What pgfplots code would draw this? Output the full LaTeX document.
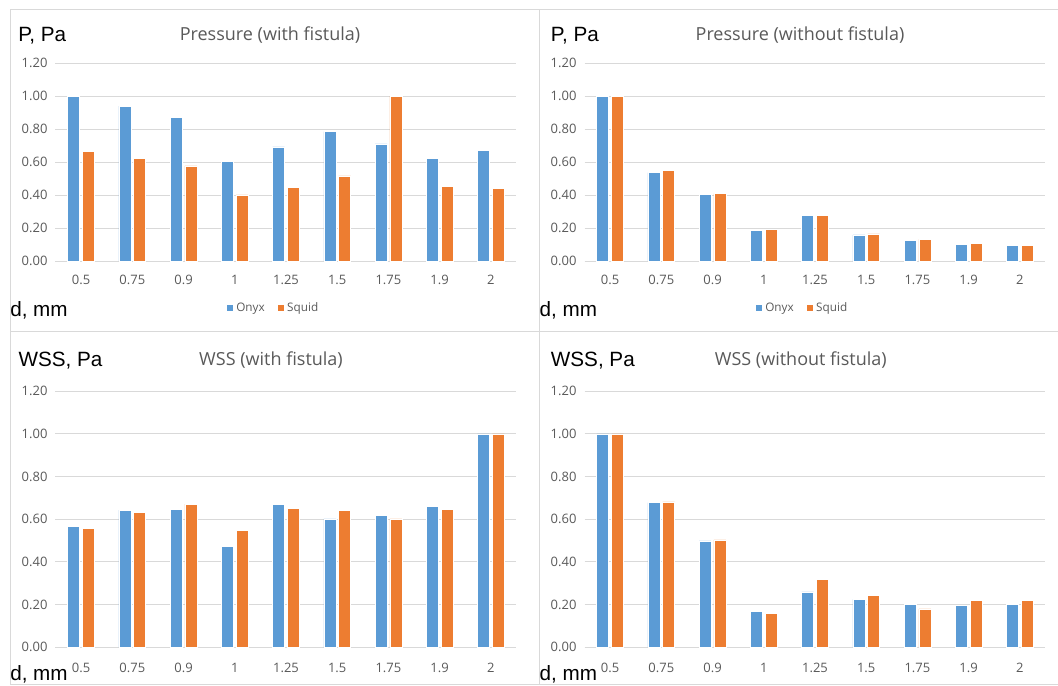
\documentclass[border=0pt]{standalone}
\usepackage{pgfplots}
\pgfplotsset{compat=1.18}
\usepackage{pgfplotstable}
\usepackage{fontspec}
\setmainfont{Open Sans}
\newfontfamily\arialf{Liberation Sans}
\definecolor{onyx}{HTML}{5B9BD5}
\definecolor{squid}{HTML}{ED7D31}
\definecolor{gridgray}{HTML}{D9D9D9}
\definecolor{txtgray}{HTML}{595959}
\definecolor{framegray}{HTML}{D9D9D9}

% Pressure (with fistula)
\pgfplotstableread{
x onyx squid
0 1.00 0.665
1 0.94 0.623
2 0.872 0.577
3 0.603 0.401
4 0.692 0.447
5 0.785 0.516
6 0.711 1.00
7 0.623 0.453
8 0.670 0.439
}\pwith
% Pressure (without fistula)
\pgfplotstableread{
x onyx squid
0 1.00 1.00
1 0.536 0.551
2 0.403 0.409
3 0.184 0.192
4 0.279 0.279
5 0.158 0.164
6 0.126 0.132
7 0.103 0.109
8 0.097 0.097
}\pwithout
% WSS (with fistula)
\pgfplotstableread{
x onyx squid
0 0.567 0.556
1 0.643 0.631
2 0.648 0.671
3 0.474 0.549
4 0.671 0.653
5 0.602 0.643
6 0.620 0.602
7 0.659 0.648
8 1.00 1.00
}\wwith
% WSS (without fistula)
\pgfplotstableread{
x onyx squid
0 1.00 1.00
1 0.678 0.682
2 0.499 0.504
3 0.167 0.160
4 0.260 0.318
5 0.225 0.244
6 0.202 0.180
7 0.197 0.219
8 0.202 0.219
}\wwithout

\pgfplotsset{
  panel/.style={
    ybar, scale only axis, width=345.75pt,
    xmin=-0.5, xmax=8.5, ymin=0, ymax=1.2,
    xtick={0,1,2,3,4,5,6,7,8},
    xticklabels={0.5,0.75,0.9,1,1.25,1.5,1.75,1.9,2},
    ytick={0,0.2,0.4,0.6,0.8,1.0,1.2},
    /pgf/number format/assume math mode=true,
    yticklabel style={/pgf/number format/fixed, /pgf/number format/fixed zerofill, /pgf/number format/precision=2,
      anchor=east, inner sep=0pt, xshift=-5.85pt},
    ticklabel style={font=\fontsize{9.75}{11}\selectfont, text=txtgray},
    xticklabel style={anchor=north, inner sep=0pt},
    axis lines*=left,
    y axis line style={draw=none},
    x axis line style={draw=gridgray, line width=0.75pt},
    tick style={draw=none},
    ymajorgrids, major grid style={draw=gridgray, line width=0.75pt},
    bar width=9pt,
    legend image code/.code={\fill[##1] (0pt,-2.75pt) rectangle (5.5pt,2.75pt);},
    legend style={draw=none, fill=none, font=\fontsize{8.8}{10}\selectfont, text=txtgray,
      legend columns=2, /tikz/every even column/.append style={column sep=7pt},
      inner sep=0pt, at={(0.4725,-0.238)}, anchor=center},
    clip=false,
  },
  onyxbar/.style={fill=onyx, draw=white, line width=0.4pt, bar shift=-5.55pt},
  squidbar/.style={fill=squid, draw=white, line width=0.4pt, bar shift=5.55pt},
}

\begin{document}
\begin{tikzpicture}
\useasboundingbox (0pt,0pt) rectangle (793.5pt,-514.5pt);
% frames
\draw[framegray, line width=0.75pt] (7.5pt,-6.75pt) -- (800pt,-6.75pt);
\draw[framegray, line width=0.75pt] (7.5pt,-248.25pt) -- (800pt,-248.25pt);
\draw[framegray, line width=0.75pt] (7.5pt,-513pt) -- (800pt,-513pt);
\draw[framegray, line width=0.75pt] (7.5pt,-6.75pt) -- (7.5pt,-513pt);
\draw[framegray, line width=0.75pt] (404.25pt,-6.75pt) -- (404.25pt,-513pt);

% Panel 1
\begin{axis}[panel, height=148.3pt, at={(41.625pt,-195.75pt)}, anchor=south west,
  xticklabel style={yshift=-6.3pt}]
\addplot[onyxbar] table[x=x,y=onyx]{\pwith};
\addplot[squidbar] table[x=x,y=squid]{\pwith};
\legend{Onyx,Squid}
\end{axis}
% Panel 2
\begin{axis}[panel, height=148.3pt, at={(438.375pt,-195.75pt)}, anchor=south west,
  xticklabel style={yshift=-6.3pt}]
\addplot[onyxbar] table[x=x,y=onyx]{\pwithout};
\addplot[squidbar] table[x=x,y=squid]{\pwithout};
\legend{Onyx,Squid}
\end{axis}
% Panel 3
\begin{axis}[panel, height=192pt, at={(41.625pt,-485.475pt)}, anchor=south west,
  xticklabel style={yshift=-7.2pt}]
\addplot[onyxbar] table[x=x,y=onyx]{\wwith};
\addplot[squidbar] table[x=x,y=squid]{\wwith};
\end{axis}
% Panel 4
\begin{axis}[panel, height=192pt, at={(438.375pt,-485.475pt)}, anchor=south west,
  xticklabel style={yshift=-7.2pt}]
\addplot[onyxbar] table[x=x,y=onyx]{\wwithout};
\addplot[squidbar] table[x=x,y=squid]{\wwithout};
\end{axis}

% titles
\begin{scope}[every node/.style={inner sep=0pt, text=txtgray, font=\fontsize{13.5}{16}\selectfont, anchor=base}]
\node at (202.5pt,-30pt) {Pressure (with fistula)};
\node at (600pt,-30pt) {Pressure (without fistula)};
\node at (203.25pt,-273.75pt) {WSS (with fistula)};
\node at (600.6pt,-273.75pt) {WSS (without fistula)};
\end{scope}
% axis labels
\begin{scope}[every node/.style={inner sep=0pt, text=black, font=\arialf\fontsize{15.5}{18}\selectfont, anchor=base west}]
\node at (13.5pt,-31.3pt) {P, Pa};
\node at (413pt,-31.3pt) {P, Pa};
\node at (7.5pt,-237.5pt) {d, mm};
\node at (404.5pt,-237.5pt) {d, mm};
\node at (13.7pt,-275pt) {WSS, Pa};
\node at (413pt,-275pt) {WSS, Pa};
\node at (7.5pt,-510.5pt) {d, mm};
\node at (404.5pt,-510.5pt) {d, mm};
\end{scope}
\end{tikzpicture}
\end{document}
